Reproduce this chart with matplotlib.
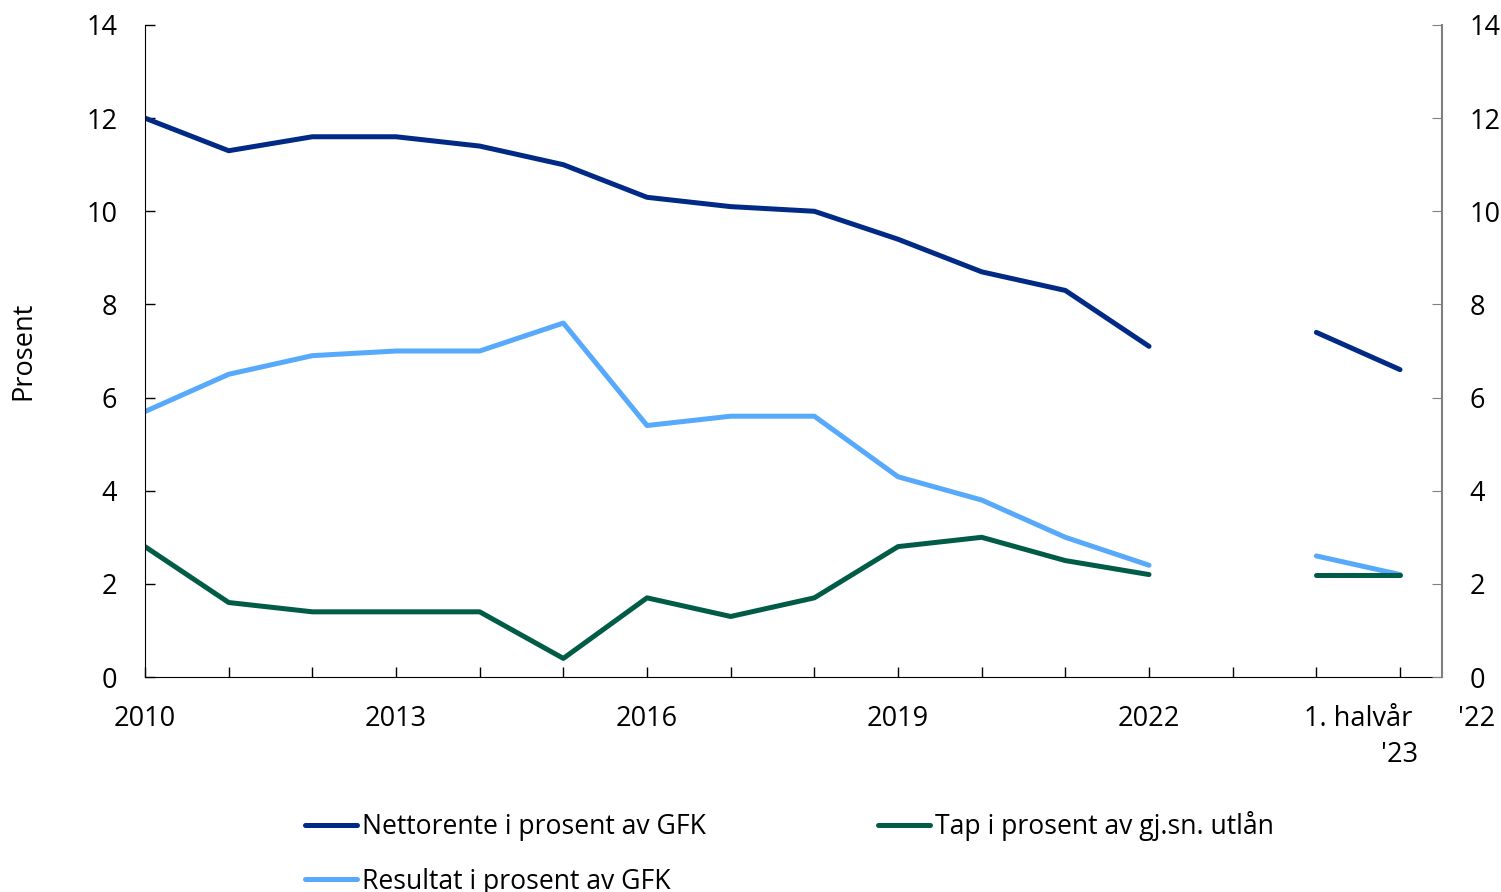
import numpy as np
import matplotlib
matplotlib.use("Agg")
import matplotlib.pyplot as plt

plt.rcParams['font.family'] = ['Open Sans', 'DejaVu Sans']

# x-positions: 0..12 = 2010..2022, 14 = 1. halvår '22, 15 = 1. halvår '23
years = list(range(2010, 2023))
half_pos = [14, 15]

netto = [12.0, 11.3, 11.6, 11.6, 11.4, 11.0, 10.3, 10.1, 10.0, 9.4, 8.7, 8.3, 7.1]
netto_half = [7.4, 6.6]
resultat = [5.7, 6.5, 6.9, 7.0, 7.0, 7.6, 5.4, 5.6, 5.6, 4.3, 3.8, 3.0, 2.4]
resultat_half = [2.6, 2.2]
tap = [2.8, 1.6, 1.4, 1.4, 1.4, 0.4, 1.7, 1.3, 1.7, 2.8, 3.0, 2.5, 2.2]
tap_half = [2.2, 2.2]

labels = ["Nettorente i prosent av GFK", "Resultat i prosent av GFK",
          "Tap i prosent av gj.sn. utlån"]
colors = ["#002a85", "#57a9fb", "#005b47"]
fs = 19.5

fig = plt.figure(figsize=(15.01, 8.92), dpi=100)
ax = fig.add_axes([0.0966, 0.241, 0.864, 0.731])

x = np.arange(len(years))
series = [(netto, netto_half), (resultat, resultat_half), (tap, tap_half)]
handles = []
for (full, half), c, lab in zip(series, colors, labels):
    h, = ax.plot(x, full, color=c, lw=3.6, solid_capstyle='round', solid_joinstyle='round', label=lab)
    ax.plot(half_pos, half, color=c, lw=3.6, solid_capstyle='round', solid_joinstyle='round')
    handles.append(h)

ax.set_xlim(0, 15.5)
ax.set_ylim(0, 14)
ax.set_yticks(range(0, 15, 2))
ax.set_xticks(range(0, 16))
ax.set_xticklabels([str(y) if (y - 2010) % 3 == 0 else "" for y in years] + ["", "", ""])
ax.tick_params(axis='both', direction='in', length=7, labelsize=fs, width=1)
ax.tick_params(axis='x', pad=20)
ax.tick_params(axis='y', pad=20)
ax.spines['top'].set_visible(False)
ax.spines['right'].set_visible(False)
ax.set_ylabel("Prosent", fontsize=fs)
ax.yaxis.set_label_coords(-0.083, 0.5)

ax2 = ax.twinx()
ax2.set_ylim(0, 14)
ax2.set_yticks(range(0, 15, 2))
ax2.tick_params(axis='y', direction='in', length=7, labelsize=fs, pad=20, color='#808080')
ax2.spines['top'].set_visible(False)
ax2.spines['left'].set_visible(False)
ax2.spines['bottom'].set_visible(False)
ax2.spines['right'].set_color('#808080')
ax2.spines['right'].set_linewidth(1.5)

# wrapped half-year labels
ax.text(14.5, -0.6, "1. halvår", ha='center', va='top', fontsize=fs)
ax.text(15.92, -0.6, "'22", ha='center', va='top', fontsize=fs, clip_on=False)
ax.text(15.0, -1.37, "'23", ha='center', va='top', fontsize=fs)

fig.legend(handles=handles, labels=labels, loc='upper left', bbox_to_anchor=(0.2032, 0.0908),
           ncol=2, frameon=False, fontsize=19.1, handlelength=1.95, handletextpad=0.18,
           columnspacing=6.52, labelspacing=1.0, borderaxespad=0, borderpad=0)

fig.savefig("out.png", dpi=100)
